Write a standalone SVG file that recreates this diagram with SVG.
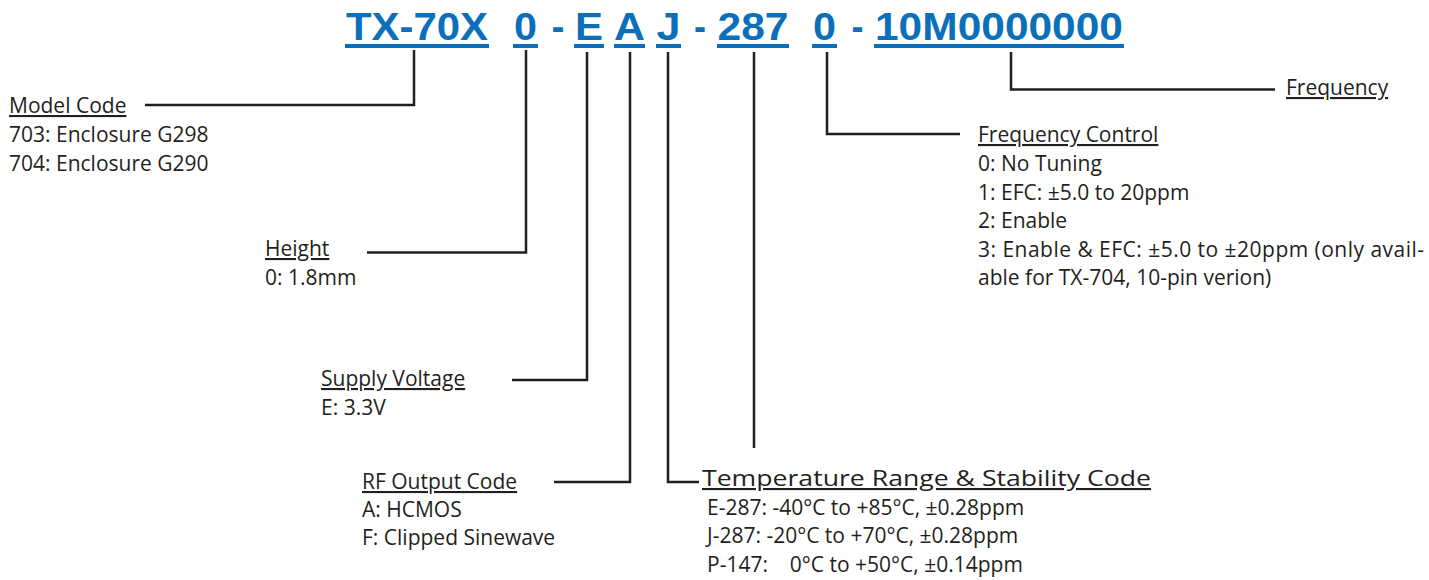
<svg xmlns="http://www.w3.org/2000/svg" width="1429" height="580" viewBox="0 0 1429 580">
<style>
.code{font-family:"Liberation Sans",Arial,sans-serif;font-weight:bold;font-size:39px;fill:#0b6fba}
.ul{stroke:#0b6fba;stroke-width:4}
.t{font-family:"Open Sans","Noto Sans",sans-serif;font-size:21px;fill:#231f20}
.h{text-decoration:underline}
.tt{font-family:"Open Sans","Noto Sans",sans-serif;font-size:21px;fill:#231f20;text-decoration:underline}
.c{fill:none;stroke:#231f20;stroke-width:2.5}
</style>
<rect width="1429" height="580" fill="#fff"/>
<g id="partnumber">
<text class="code" x="417" y="40" text-anchor="middle" textLength="142" lengthAdjust="spacingAndGlyphs">TX-70X</text>
<text class="code" x="525.5" y="40" text-anchor="middle" textLength="23" lengthAdjust="spacingAndGlyphs">0</text>
<text class="code" x="558" y="40" text-anchor="middle" textLength="13" lengthAdjust="spacingAndGlyphs">-</text>
<text class="code" x="589" y="40" text-anchor="middle" textLength="28" lengthAdjust="spacingAndGlyphs">E</text>
<text class="code" x="629.5" y="40" text-anchor="middle" textLength="31" lengthAdjust="spacingAndGlyphs">A</text>
<text class="code" x="668.5" y="40" text-anchor="middle" textLength="24" lengthAdjust="spacingAndGlyphs">J</text>
<text class="code" x="700" y="40" text-anchor="middle" textLength="12" lengthAdjust="spacingAndGlyphs">-</text>
<text class="code" x="753" y="40" text-anchor="middle" textLength="71" lengthAdjust="spacingAndGlyphs">287</text>
<text class="code" x="824.5" y="40" text-anchor="middle" textLength="23" lengthAdjust="spacingAndGlyphs">0</text>
<text class="code" x="857.5" y="40" text-anchor="middle" textLength="12" lengthAdjust="spacingAndGlyphs">-</text>
<text class="code" x="999" y="40" text-anchor="middle" textLength="248" lengthAdjust="spacingAndGlyphs">10M0000000</text>
<line class="ul" x1="345" y1="46" x2="489" y2="46"/>
<line class="ul" x1="513" y1="46" x2="538" y2="46"/>
<line class="ul" x1="574" y1="46" x2="604" y2="46"/>
<line class="ul" x1="614" y1="46" x2="645" y2="46"/>
<line class="ul" x1="656" y1="46" x2="681" y2="46"/>
<line class="ul" x1="717" y1="46" x2="789" y2="46"/>
<line class="ul" x1="812" y1="46" x2="837" y2="46"/>
<line class="ul" x1="874" y1="46" x2="1124" y2="46"/>
</g>
<g id="connectors">
<path class="c" d="M414,50 V105 H145"/>
<path class="c" d="M526,50 V252.5 H367"/>
<path class="c" d="M587,52 V380 H512"/>
<path class="c" d="M630,52 V482 H554"/>
<path class="c" d="M668,52 V482 H699"/>
<path class="c" d="M754,52 V448"/>
<path class="c" d="M827,52 V134 H960"/>
<path class="c" d="M1011,52 V89.5 H1275"/>
</g>
<g id="model-code">
<text class="t h" x="9" y="113">Model Code</text>
<text class="t" x="9" y="142">703: Enclosure G298</text>
<text class="t" x="9" y="171">704: Enclosure G290</text>
</g>
<g id="height">
<text class="t h" x="265" y="256">Height</text>
<text class="t" x="265" y="285">0: 1.8mm</text>
</g>
<g id="supply-voltage">
<text class="t h" x="321" y="386">Supply Voltage</text>
<text class="t" x="321" y="415">E: 3.3V</text>
</g>
<g id="rf-output">
<text class="t h" x="362" y="489">RF Output Code</text>
<text class="t" x="362" y="517">A: HCMOS</text>
<text class="t" x="362" y="545">F: Clipped Sinewave</text>
</g>
<g id="temperature">
<text class="tt" x="702" y="486" textLength="449" lengthAdjust="spacingAndGlyphs">Temperature Range &amp; Stability Code</text>
<text class="t" x="707" y="515">E-287: -40°C to +85°C, ±0.28ppm</text>
<text class="t" x="707" y="543">J-287: -20°C to +70°C, ±0.28ppm</text>
<text class="t" x="707" y="572" xml:space="preserve">P-147:    0°C to +50°C, ±0.14ppm</text>
</g>
<g id="frequency-control">
<text class="t h" x="978" y="142">Frequency Control</text>
<text class="t" x="978" y="171">0: No Tuning</text>
<text class="t" x="978" y="200">1: EFC: ±5.0 to 20ppm</text>
<text class="t" x="978" y="228">2: Enable</text>
<text class="t" x="978" y="257" textLength="446" lengthAdjust="spacing">3: Enable &amp; EFC: ±5.0 to ±20ppm (only avail-</text>
<text class="t" x="978" y="285">able for TX-704, 10-pin verion)</text>
</g>
<g id="frequency">
<text class="t h" x="1286" y="95">Frequency</text>
</g>
</svg>
